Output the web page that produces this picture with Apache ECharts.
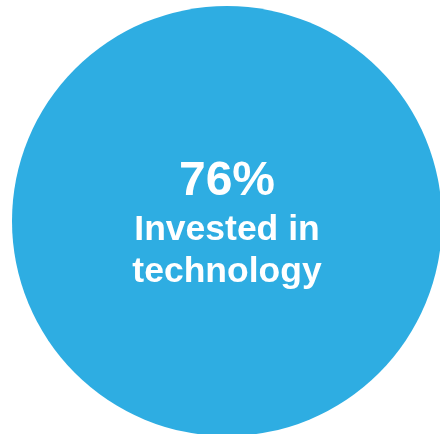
<!DOCTYPE html>
<html>
<head>
<meta charset="utf-8">
<script src="https://cdn.jsdelivr.net/npm/echarts@6/dist/echarts.min.js"></script>
<style>
html,body{margin:0;padding:0;background:#fff;}
#chart{width:440px;height:434px;}
</style>
</head>
<body>
<div id="chart"></div>
<script>
var categories = ['Invested in technology'];
var values = [76];
var headline = '76%';
var labelLines = ['Invested in', 'technology'];

var chart = echarts.init(document.getElementById('chart'), null, {renderer: 'canvas'});
chart.setOption({
  animation: false,
  series: [{
    type: 'pie',
    center: [227, 221],
    radius: [0, 215],
    silent: true,
    itemStyle: {color: '#2EADE2', borderWidth: 0},
    label: {
      show: true,
      position: 'center',
      padding: [6, 0, 0, 0],
      formatter: function () {
        return '{a|' + headline + '}\n' + labelLines.map(function (l) { return '{b|' + l + '}'; }).join('\n');
      },
      rich: {
        a: {fontFamily: 'Liberation Sans, Arial, sans-serif', fontWeight: 'bold', fontSize: 48, color: '#fff', lineHeight: 54},
        b: {fontFamily: 'Liberation Sans, Arial, sans-serif', fontWeight: 'bold', fontSize: 35.5, color: '#fff', lineHeight: 42}
      }
    },
    labelLine: {show: false},
    data: categories.map(function (c, i) { return {name: c, value: values[i]}; })
  }]
});
</script>
</body>
</html>
